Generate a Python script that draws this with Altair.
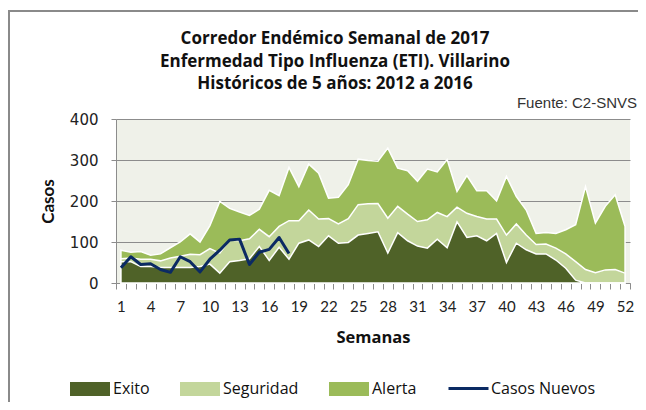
import altair as alt
import pandas as pd

# ---------------- data ----------------
weeks = list(range(1, 53))
# upper limit of each zone (stacked boundaries)
exito = [52, 52, 40, 40, 38, 38, 38, 38, 40, 46,
         24, 52, 55, 59, 89, 55, 87, 58, 97, 105,
         89, 115, 97, 99, 117, 121, 125, 73, 123, 103,
         90, 85, 107, 86, 149, 111, 115, 103, 121, 50,
         97, 81, 71, 71, 56, 36, 7, 0, 0, 0,
         0, 0]
seguridad = [59, 61, 58, 58, 54, 61, 65, 70, 69, 84,
             73, 105, 103, 108, 131, 113, 138, 152, 152, 178,
             156, 157, 144, 157, 191, 193, 194, 158, 187, 168,
             150, 154, 172, 162, 185, 170, 162, 156, 156, 117,
             144, 117, 94, 95, 85, 71, 52, 33, 25, 32,
             33, 24]
alerta = [80, 75, 77, 68, 71, 86, 100, 120, 100, 140,
          199, 182, 173, 165, 180, 226, 213, 282, 235, 290,
          268, 207, 209, 240, 302, 299, 297, 329, 280, 274,
          248, 278, 271, 301, 223, 262, 225, 225, 200, 260,
          211, 178, 121, 123, 121, 130, 142, 235, 146, 187,
          215, 138]
casos_weeks = list(range(1, 19))
casos_nuevos = [37, 64, 45, 47, 33, 26, 64, 52, 27, 58,
                80, 105, 107, 45, 75, 82, 111, 72]

series_names = ["Exito", "Seguridad", "Alerta"]
line_name = "Casos Nuevos"
title_lines = ["Corredor Endémico Semanal de 2017",
               "Enfermedad Tipo Influenza (ETI). Villarino",
               "Históricos de 5 años: 2012 a 2016"]
fuente = "Fuente: C2-SNVS"
y_ticks = [0, 100, 200, 300, 400]
x_label_weeks = list(range(1, 53, 3))

# ---------------- styling ----------------
C_EXITO = "#4F6228"
C_SEG = "#C3D69B"
C_ALERTA = "#9BBB59"
C_LINE = "#0B2A63"
C_GRID = "#8C8C8C"
BG = "#EFF1E9"

W, H = 514, 164

rows = []
for name, vals in zip(series_names, [exito, seguridad, alerta]):
    for w, v in zip(weeks, vals):
        rows.append({"semana": w, "casos": v, "serie": name})
df_areas = pd.DataFrame(rows)
df_line = pd.DataFrame({"semana": casos_weeks, "casos": casos_nuevos, "serie": line_name})

boundaries = [w - 0.5 for w in weeks] + [52.5]
x_values = sorted(boundaries + x_label_weeks)

x_enc = alt.X(
    "semana:Q",
    scale=alt.Scale(domain=[0.5, 52.5], nice=False, zero=False),
    axis=alt.Axis(
        values=x_values,
        labelExpr="datum.value % 1 === 0 ? datum.label : ''",
        tickOpacity={"condition": {"test": "datum.value % 1 === 0", "value": 0}, "value": 1},
        labelOverlap=False,
        grid=False,
        tickSize=6,
        tickColor=C_GRID,
        domainColor=C_GRID,
        labelPadding=10,
        labelFont="Lato",
        labelFontSize=15,
        labelColor="#222222",
        title="Semanas",
        titleFont="Open Sans",
        titleFontSize=16.5,
        titleFontWeight="bold",
        titleColor="#111111",
        titleY=54,
        titleBaseline="middle",
    ),
)

y_enc = alt.Y(
    "casos:Q",
    stack=None,
    scale=alt.Scale(domain=[0, 400], nice=False),
    axis=alt.Axis(
        values=y_ticks,
        grid=True,
        gridColor=C_GRID,
        gridWidth=1,
        tickSize=5,
        tickColor=C_GRID,
        domainColor=C_GRID,
        labelPadding=13,
        labelFont="DejaVu Sans",
        labelFontSize=15,
        labelColor="#222222",
        title="Casos",
        titleFont="Lato",
        titleFontSize=17,
        titleFontWeight="bold",
        titleColor="#111111",
        titleX=-68,
        titleY=H / 2,
        titleBaseline="middle",
    ),
)

fill_scale = alt.Scale(domain=series_names, range=[C_EXITO, C_SEG, C_ALERTA])
rect_path = "M-1,-0.35L1,-0.35L1,0.35L-1,0.35Z"


def area_layer(name, show_legend):
    legend = None
    if show_legend:
        legend = alt.Legend(
            title=None, orient="none", legendX=-46, legendY=250,
            direction="horizontal", symbolType=rect_path, symbolSize=1600,
            symbolStrokeWidth=0, symbolOpacity=1,
            labelFont="Open Sans", labelFontSize=16, labelColor="#111111",
            labelOffset=3, columnPadding=30,
        )
    return (
        alt.Chart(df_areas)
        .transform_filter(alt.datum.serie == name)
        .mark_area(stroke="white", strokeWidth=1.5, opacity=1, interpolate="linear")
        .encode(
            x=x_enc,
            y=y_enc,
            fill=alt.Fill("serie:N", scale=fill_scale, legend=legend),
        )
    )


areas = [area_layer("Alerta", True), area_layer("Seguridad", False), area_layer("Exito", False)]

line = (
    alt.Chart(df_line)
    .mark_line(strokeWidth=3, strokeJoin="round")
    .encode(
        x=x_enc,
        y=y_enc,
        stroke=alt.Stroke(
            "serie:N",
            scale=alt.Scale(domain=[line_name], range=[C_LINE]),
            legend=alt.Legend(
                title=None, orient="none", legendX=331, legendY=248,
                symbolType="stroke", symbolSize=1600, symbolStrokeWidth=3,
                labelFont="Open Sans", labelFontSize=16, labelColor="#111111",
                labelOffset=1,
            ),
        ),
    )
)

title_text = (
    alt.Chart(pd.DataFrame({"k": [0]}))
    .mark_text(text=title_lines, align="center", baseline="middle", lineHeight=22.5,
               font="Open Sans", fontSize=17, fontWeight="bold", color="#111111")
    .encode(x=alt.value(219), y=alt.value(-80))
)

fuente_text = (
    alt.Chart(pd.DataFrame({"t": [fuente]}))
    .mark_text(align="right", baseline="middle", font="Liberation Sans", fontSize=15, color="#333333")
    .encode(text="t:N", x=alt.value(W + 7), y=alt.value(-16))
)

frame = (
    alt.Chart(pd.DataFrame({"k": [0]}))
    .mark_rect(fill=None, stroke="#8A8A8A", strokeWidth=2)
    .encode(x=alt.value(-107), y=alt.value(-108), x2=alt.value(W + 300), y2=alt.value(H + 300))
)

chart = (
    alt.layer(*areas, line, title_text, fuente_text, frame)
    .resolve_scale(fill="shared")
    .properties(
        width=W,
        height=H,
        autosize=alt.AutoSizeParams(type="none"),
        padding={"left": 108, "top": 111, "right": 8, "bottom": 119},
        background="white",
    )
    .configure_view(fill=BG, stroke=None)
)

chart.save("out.html", embed_options={"renderer": "svg", "actions": False})
